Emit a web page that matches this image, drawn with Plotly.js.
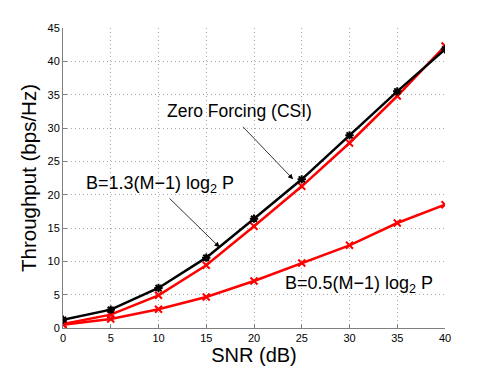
<!DOCTYPE html>
<html lang="en">
<head>
    <meta charset="UTF-8">
    <title>Throughput vs SNR</title>
    <script src="https://cdn.plot.ly/plotly-3.0.1.min.js" charset="utf-8"></script>
    <style>
        body { margin: 0; background: #fff; }
        #chart { width: 491px; height: 369px; }
    </style>
</head>
<body>
<div id="chart"></div>
<script>
// SNR values (dB)
const snr = [0, 5, 10, 15, 20, 25, 30, 35, 40];

// Zero forcing with perfect CSI
const zfCsi = [1.25, 2.75, 6.0, 10.55, 16.4, 22.3, 28.9, 35.5, 41.8];
// B = 1.3(M-1) log2 P
const limitedHigh = [0.6, 2.0, 4.9, 9.4, 15.25, 21.25, 27.75, 34.8, 42.3];
// B = 0.5(M-1) log2 P
const limitedLow = [0.5, 1.35, 2.8, 4.65, 7.05, 9.75, 12.4, 15.75, 18.5];

const xTicks = [0, 5, 10, 15, 20, 25, 30, 35, 40];
const yTicks = [0, 5, 10, 15, 20, 25, 30, 35, 40, 45];

const font = 'Liberation Sans, Arial, Helvetica, sans-serif';

function series(y, color, symbol) {
    return {
        x: snr,
        y: y,
        mode: 'lines+markers',
        line: { color: color, width: 2.5 },
        marker: { symbol: symbol, size: 7, color: color, line: { color: color, width: 2 } },
        showlegend: false,
        hoverinfo: 'x+y'
    };
}

const data = [
    series(limitedLow, '#ff0000', 'x-thin-open'),
    series(limitedHigh, '#ff0000', 'x-thin-open'),
    series(zfCsi, '#000000', 'asterisk-open')
];

const arrowStyle = {
    text: '',
    showarrow: true,
    arrowhead: 2,
    arrowsize: 1.3,
    arrowwidth: 0.8,
    arrowcolor: '#000',
    xref: 'x', yref: 'y', axref: 'x', ayref: 'y'
};

const layout = {
    width: 491,
    height: 369,
    margin: { l: 63, r: 46, t: 28, b: 41 },
    paper_bgcolor: '#fff',
    plot_bgcolor: '#fff',
    font: { family: font, color: '#000', size: 11 },
    xaxis: {
        range: [0, 40],
        tickvals: xTicks,
        ticks: 'inside', ticklen: 4, tickcolor: '#808080',
        showline: true, linecolor: '#808080', linewidth: 1,
        showgrid: true, gridcolor: '#a8a8a8', griddash: '1px,3px', gridwidth: 1,
        zeroline: false,
        tickfont: { size: 11 },
        title: { text: 'SNR (dB)', font: { size: 20 }, standoff: 3 }
    },
    yaxis: {
        range: [0, 45],
        tickvals: yTicks,
        ticks: 'inside', ticklen: 4, tickcolor: '#808080',
        showline: true, linecolor: '#808080', linewidth: 1,
        showgrid: true, gridcolor: '#a8a8a8', griddash: '1px,3px', gridwidth: 1,
        zeroline: false,
        tickfont: { size: 11 },
        title: { text: 'Throughput (bps/Hz)', font: { size: 20.5 }, standoff: 5 }
    },
    annotations: [
        { text: 'Zero Forcing (CSI)', x: 10.65, y: 32.5, xanchor: 'left', yanchor: 'middle',
          showarrow: false, font: { size: 17.5 } },
        Object.assign({}, arrowStyle, { x: 24.1, y: 22.3, ax: 18.7, ay: 30.4 }),
        { text: 'B=1.3(M\u22121) log<sub>2</sub> P', x: 2.2, y: 21.6, xanchor: 'left', yanchor: 'middle',
          showarrow: false, font: { size: 18 } },
        Object.assign({}, arrowStyle, { x: 16.4, y: 12.1, ax: 11.0, ay: 19.65 }),
        { text: 'B=0.5(M\u22121) log<sub>2</sub> P', x: 23.0, y: 6.5, xanchor: 'left', yanchor: 'middle',
          showarrow: false, font: { size: 18 } }
    ]
};

Plotly.newPlot('chart', data, layout, { displayModeBar: false, staticPlot: true });
</script>
</body>
</html>
